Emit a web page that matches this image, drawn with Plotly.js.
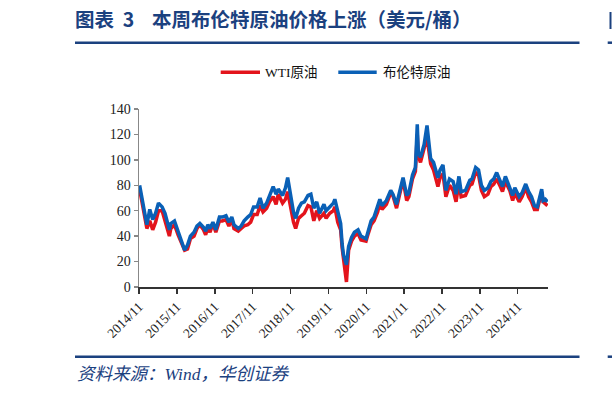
<!DOCTYPE html>
<html>
<head>
<meta charset="utf-8">
<script src="https://cdn.plot.ly/plotly-3.0.1.min.js"></script>
<style>html,body{margin:0;padding:0;background:#fff;}#chart{width:612px;height:394px;}</style>
</head>
<body>
<div id="chart"></div>
<script>
// ---- data ----
const dates = [
"2014-11-07","2014-12-05","2014-12-26","2015-01-16","2015-02-13","2015-03-13","2015-04-10","2015-05-08","2015-06-12","2015-07-10",
"2015-08-21","2015-09-04","2015-10-09","2015-11-13","2015-12-18","2016-01-15","2016-02-12","2016-03-11","2016-04-15","2016-05-13",
"2016-06-10","2016-07-15","2016-08-05","2016-08-26","2016-09-16","2016-10-14","2016-11-11","2016-12-16","2017-01-13","2017-02-17",
"2017-03-17","2017-04-14","2017-05-05","2017-06-16","2017-07-14","2017-08-11","2017-09-15","2017-10-13","2017-11-10","2017-12-15",
"2018-01-12","2018-02-09","2018-03-16","2018-04-13","2018-05-18","2018-06-15","2018-07-06","2018-08-17","2018-09-14","2018-10-05",
"2018-11-09","2018-11-30","2018-12-21","2019-01-18","2019-02-15","2019-03-15","2019-04-19","2019-05-17","2019-06-14","2019-07-12",
"2019-08-09","2019-09-20","2019-10-11","2019-11-15","2019-12-20","2020-01-03","2020-01-31","2020-02-28","2020-03-13","2020-03-27",
"2020-04-24","2020-05-15","2020-06-12","2020-07-10","2020-08-14","2020-09-11","2020-10-30","2020-11-20","2020-12-18","2021-01-15",
"2021-02-19","2021-03-12","2021-04-02","2021-05-14","2021-06-25","2021-07-16","2021-08-20","2021-09-17","2021-10-22","2021-11-26",
"2021-12-17","2022-01-21","2022-02-18","2022-03-08","2022-03-18","2022-04-08","2022-05-13","2022-06-10","2022-07-15","2022-08-12",
"2022-09-23","2022-10-14","2022-11-11","2022-12-09","2023-01-13","2023-02-17","2023-03-17","2023-04-14","2023-05-05","2023-06-16",
"2023-07-28","2023-08-18","2023-09-22","2023-10-20","2023-11-17","2023-12-15","2024-01-19","2024-02-16","2024-03-15","2024-04-12",
"2024-05-17","2024-06-07","2024-07-05","2024-08-16","2024-09-13","2024-10-04","2024-11-15","2024-12-13","2025-01-17","2025-02-14",
"2025-03-14","2025-04-11","2025-05-09","2025-06-20","2025-07-04","2025-07-25","2025-08-15"
];
const brent = [
80,68,60,49,61,53,58,66,63,58,
45,50,52,44,37,29,33,40,43,48,
50,47,44,49,46,51,45,55,55,56,
51,55,49,46,48,52,55,57,63,63,
70,62,66,72,79,73,77,72,78,86,
70,59,54,62,66,67,72,73,62,67,
58,65,60,63,66,69,58,50,34,25,
17.5,32,39,43,45,40,38,45,52,55,
63,69,64,68,76,73,65,75,86,72,
74,88,94,128,106,102,112,127,101,98,
86,92,96,76,85,83,73,87,75,76,
84,85,94,92,80,76,78,83,85,90,
83,79,87,79,72,78,71,74,81,75,
71,64,63,77,68,69,67
];
const wti = [
77,65,56,46,52,45,51,60,60,52,
40,46,49,41,35,29,30,38,40,46,
49,45,41,47,43,50,43,52,52,53,
48,53,46,44,46,48,49,51,57,57,
64,59,62,67,71,65,73,66,69,75,
60,51,46,54,56,58,64,63,52,60,
54,58,54,58,60,63,51,45,31,21,
4,29,36,40,42,37,36,42,49,52,
59,66,61,65,74,72,62,72,84,68,
71,85,91,120,103,98,110,118,97,92,
79,86,89,71,80,76,67,82,71,72,
80,81,90,88,76,71,73,79,81,85,
79,75,83,76,68,74,67,71,78,71,
67,61,61,75,67,65,64
];
const tickDates = ["2014-11-01","2015-11-01","2016-11-01","2017-11-01","2018-11-01","2019-11-01","2020-11-01","2021-11-01","2022-11-01","2023-11-01","2024-11-01"];
const tickLabels = ["2014/11","2015/11","2016/11","2017/11","2018/11","2019/11","2020/11","2021/11","2022/11","2023/11","2024/11"];
const seriesNames = ["WTI原油","布伦特原油"];

// ---- styling ----
const RED = "#e3141c", BLUE = "#0a60b6", NAVY = "#1b417f";
const serif = "'Liberation Serif', 'Times New Roman', 'Noto Sans CJK SC', serif";
const cjk = "'Liberation Serif', 'Noto Sans CJK SC', serif";

const traces = [
  {x: dates, y: wti, name: seriesNames[0], type: "scatter", mode: "lines",
   line: {color: RED, width: 3.5}},
  {x: dates, y: brent, name: seriesNames[1], type: "scatter", mode: "lines",
   line: {color: BLUE, width: 3.5}}
];

// helpers to convert pixel positions to paper coords
const L = 139, R = 64, T = 109, B = 107, W = 612 - L - R, H = 394 - T - B;
const px = v => (v - L) / W;
const py = v => (394 - B - v) / H;

const layout = {
  width: 612, height: 394,
  margin: {l: L, r: R, t: T, b: B, pad: 0},
  paper_bgcolor: "#fff", plot_bgcolor: "#fff",
  showlegend: false,
  title: {
    text: "<b>图表&nbsp;&nbsp;3&nbsp;&nbsp;&nbsp;&nbsp;本周布伦特原油价格上涨（美元/桶）</b>",
    font: {family: "'Noto Sans CJK SC', sans-serif", size: 19.5, color: NAVY},
    xref: "container", yref: "container",
    x: 75 / 612, xanchor: "left", y: 1 - 20.5 / 394, yanchor: "middle"
  },
  xaxis: {
    type: "date",
    range: ["2014-11-01", "2025-08-20"],
    tickmode: "array", tickvals: tickDates, ticktext: tickLabels,
    tickangle: -45,
    ticks: "outside", ticklen: 5, tickwidth: 1.5, tickcolor: "#333",
    showline: true, linecolor: "#333", linewidth: 1.5,
    showgrid: false, zeroline: false,
    tickfont: {family: serif, size: 13.5, color: "#222"}
  },
  yaxis: {
    range: [0, 140], dtick: 20, tick0: 0,
    ticks: "outside", ticklen: 4, tickwidth: 1.5, tickcolor: "#888",
    showline: true, linecolor: "#888", linewidth: 1.5,
    showgrid: false, zeroline: false,
    tickfont: {family: serif, size: 14, color: "#222"}
  },
  shapes: [
    {type: "line", xref: "paper", yref: "paper", x0: px(75), x1: px(579.5), y0: py(42.7), y1: py(42.7), line: {color: NAVY, width: 2.5}},
    {type: "line", xref: "paper", yref: "paper", x0: px(607.7), x1: px(612), y0: py(42.7), y1: py(42.7), line: {color: NAVY, width: 2.5}},
    {type: "line", xref: "paper", yref: "paper", x0: px(75), x1: px(579.5), y0: py(356.7), y1: py(356.7), line: {color: NAVY, width: 2.5}},
    {type: "line", xref: "paper", yref: "paper", x0: px(607.7), x1: px(612), y0: py(356.7), y1: py(356.7), line: {color: NAVY, width: 2.5}},
    {type: "line", xref: "paper", yref: "paper", x0: px(610.5), x1: px(610.5), y0: py(12), y1: py(29), line: {color: NAVY, width: 2}},
    {type: "line", xref: "paper", yref: "paper", x0: px(220.7), x1: px(260), y0: py(72.3), y1: py(72.3), line: {color: RED, width: 3.5}},
    {type: "line", xref: "paper", yref: "paper", x0: px(338.3), x1: px(376.7), y0: py(72.3), y1: py(72.3), line: {color: BLUE, width: 3.5}}
  ],
  annotations: [
    {xref: "paper", yref: "paper", x: px(263), y: py(72.3), xanchor: "left", yanchor: "middle", showarrow: false,
     text: seriesNames[0], font: {family: cjk, size: 13.5, color: "#111"}},
    {xref: "paper", yref: "paper", x: px(381), y: py(72.3), xanchor: "left", yanchor: "middle", showarrow: false,
     text: seriesNames[1], font: {family: cjk, size: 13.5, color: "#111"}},
    {xref: "paper", yref: "paper", x: px(75), y: py(374), xanchor: "left", yanchor: "middle", showarrow: false,
     text: "<i>资料来源：Wind，华创证券</i>", font: {family: cjk, size: 17.5, color: NAVY}}
  ]
};

Plotly.newPlot("chart", traces, layout, {displayModeBar: false, staticPlot: true});
</script>
</body>
</html>
